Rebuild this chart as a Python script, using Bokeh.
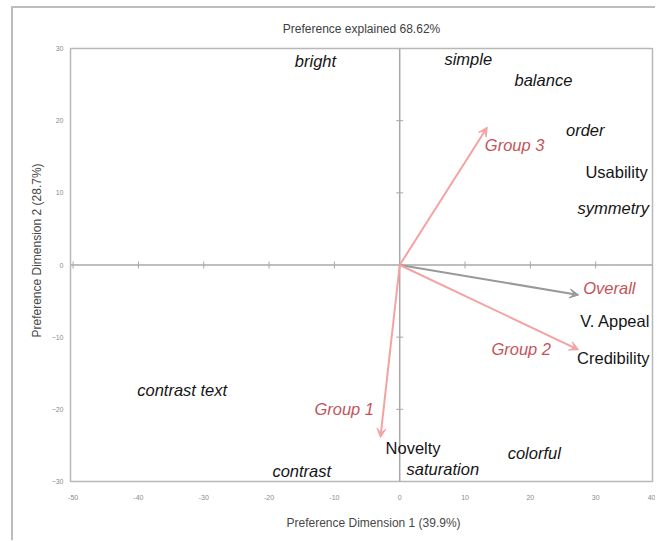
import math
from bokeh.plotting import figure
from bokeh.models import ColumnDataSource, Span, Arrow, VeeHead, FixedTicker, Title
from bokeh.core.properties import value
from bokeh.embed import file_html
from bokeh.resources import INLINE

# ---------------- data ----------------
title_text = "Preference explained 68.62%"
x_label = "Preference Dimension 1 (39.9%)"
y_label = "Preference Dimension 2 (28.7%)"

x_ticks = [-50, -40, -30, -20, -10, 0, 10, 20, 30, 40]
y_ticks = [-30, -20, -10, 0, 10, 20, 30]

# attribute labels
attr_names = ["bright", "simple", "balance", "order", "Usability", "symmetry",
              "V. Appeal", "Credibility", "contrast text", "Novelty",
              "saturation", "colorful", "contrast"]
attr_x = [-12.9, 10.5, 22.0, 28.4, 33.2, 32.7, 33.0, 32.7, -33.3, 2.05, 6.6, 20.6, -15.0]
attr_y = [28.3, 28.6, 25.6, 18.7, 12.9, 7.9, -7.7, -12.9, -17.3, -25.4, -28.2, -26.0, -28.5]
attr_style = ["italic", "italic", "italic", "italic", "normal", "italic",
              "normal", "normal", "italic", "normal", "italic", "italic", "italic"]

# preference vectors
vec_names = ["Group 3", "Overall", "Group 2", "Group 1"]
vec_x = [13.4, 27.4, 27.4, -2.95]
vec_y = [19.1, -4.15, -11.75, -23.9]
vec_label_x = [17.6, 32.1, 18.6, -8.5]
vec_label_y = [16.6, -3.2, -11.6, -19.9]

# ---------------- styling ----------------
FONT = "Liberation Sans"
PINK = "#f4a2a2"
GREY_ARROW = "#999999"
RED_TEXT = "#c4545a"
AXIS_GREY = "#a8a8a8"
BORDER = "#bdbdbd"
LABEL_SIZE = "16.5px"

x_lo, x_hi = -50.4, 38.7
y_lo, y_hi = -30.0, 30.0

p = figure(width=655, height=540, x_range=(x_lo, x_hi), y_range=(y_lo, y_hi),
           output_backend="svg", toolbar_location=None,
           min_border_left=70, min_border_right=3, min_border_top=48, min_border_bottom=58)
p.styles = {"background": (f"linear-gradient({BORDER},{BORDER}) 11px 6px / 2px 100% no-repeat, "
                           f"linear-gradient({BORDER},{BORDER}) 11px 6px / 100% 2px no-repeat, white")}
p.background_fill_color = "white"
p.border_fill_alpha = 0
p.grid.visible = False
p.outline_line_color = "#b8b8b8"
p.outline_line_width = 1.5

p.title.text = title_text
p.title.align = "center"
p.title.offset = 4
p.title.text_font = FONT
p.title.text_font_size = "12px"
p.title.text_font_style = "normal"
p.title.text_color = "#404040"
p.title.standoff = 25

# axes: tick labels only
xt = [min(t, x_hi) for t in x_ticks]
p.xaxis.ticker = FixedTicker(ticks=xt)
p.xaxis.major_label_overrides = {pos: str(t) for pos, t in zip(xt, x_ticks)}
p.yaxis.ticker = FixedTicker(ticks=y_ticks)
for ax in (p.xaxis[0], p.yaxis[0]):
    ax.axis_line_color = None
    ax.major_tick_line_color = None
    ax.minor_tick_line_color = None
    ax.major_tick_out = 0
    ax.major_tick_in = 0
    ax.major_label_text_font = FONT
    ax.major_label_text_font_size = "7px"
    ax.major_label_text_color = "#8a8a8a"
p.xaxis.major_label_standoff = 13
p.yaxis.major_label_standoff = 7

# axis titles as side-panel titles (offset from the frame start like the reference)
xt_title = Title(text=x_label, align="left", offset=216, standoff=22,
                 text_font=FONT, text_font_size="12px", text_font_style="normal",
                 text_color="#484848")
p.add_layout(xt_title, "below")
yt_title = Title(text=y_label, align="left", offset=144, standoff=10,
                 text_font=FONT, text_font_size="12px", text_font_style="normal",
                 text_color="#484848")
p.add_layout(yt_title, "left")

# crosshair through origin
p.add_layout(Span(location=0, dimension="height", line_color=AXIS_GREY, line_width=1.5, level="underlay"))
p.add_layout(Span(location=0, dimension="width", line_color=AXIS_GREY, line_width=1.5, level="underlay"))
hx = [t for t in x_ticks if t != 0 and x_lo < t < x_hi - 1]
vy = [t for t in y_ticks if t != 0 and y_lo < t < y_hi]
p.scatter(x=hx, y=[0] * len(hx), marker="dash", size=7, angle=math.pi / 2,
          line_color=AXIS_GREY, line_width=1, level="underlay")
p.scatter(x=[0] * len(vy), y=vy, marker="dash", size=7,
          line_color=AXIS_GREY, line_width=1, level="underlay")

# attribute text
src = ColumnDataSource(dict(x=attr_x, y=attr_y, t=attr_names, s=attr_style))
p.text(x="x", y="y", text="t", source=src, text_font=value(FONT), text_font_size=LABEL_SIZE,
       text_font_style="s", text_color="#151515", text_align="center", text_baseline="middle")

# vectors
for name, vx, vy_ in zip(vec_names, vec_x, vec_y):
    c = GREY_ARROW if name == "Overall" else PINK
    p.add_layout(Arrow(x_start=0, y_start=0, x_end=vx, y_end=vy_, line_color=c, line_width=2,
                       end=VeeHead(size=9, line_color=c, fill_color=c, line_width=1)))

vsrc = ColumnDataSource(dict(x=vec_label_x, y=vec_label_y, t=vec_names))
p.text(x="x", y="y", text="t", source=vsrc, text_font=value(FONT), text_font_size=LABEL_SIZE,
       text_font_style="italic", text_color=RED_TEXT, text_align="center", text_baseline="middle")

open("out.html", "w").write(file_html(p, INLINE))
